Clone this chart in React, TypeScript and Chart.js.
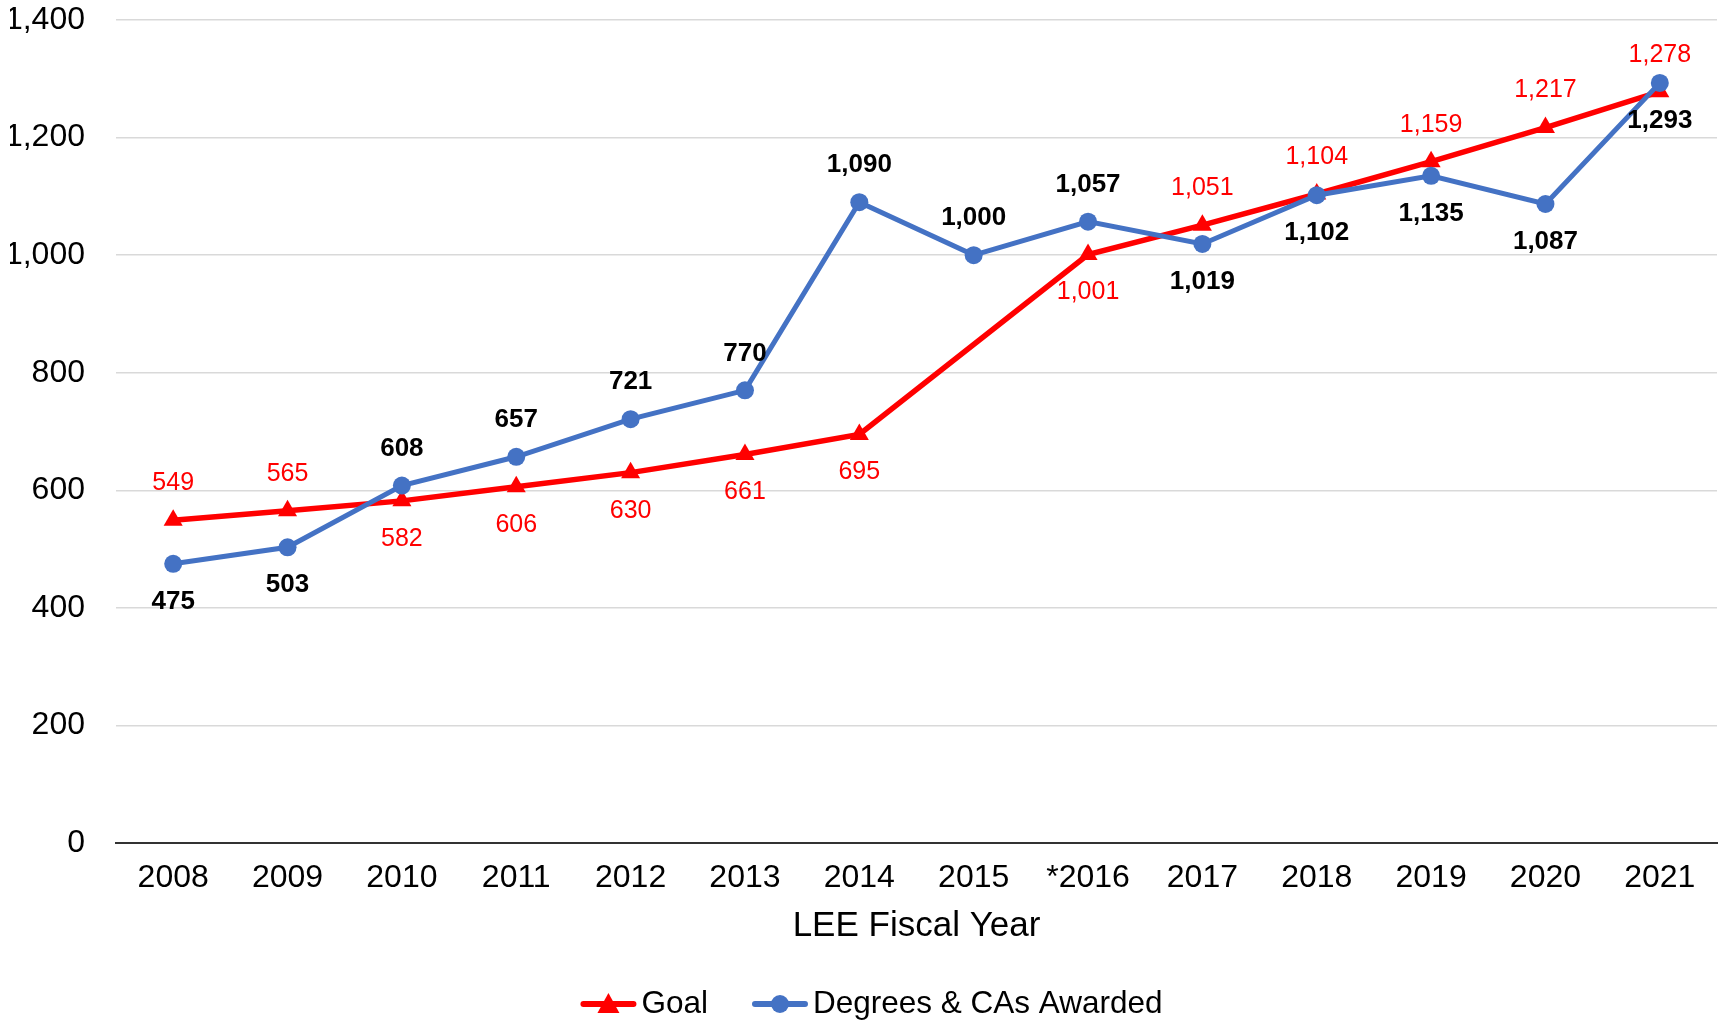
import React, { useEffect, useRef } from "react";
import { Chart, registerables } from "chart.js";

Chart.register(...registerables);

const years = ["2008", "2009", "2010", "2011", "2012", "2013", "2014", "2015", "*2016", "2017", "2018", "2019", "2020", "2021"];
const goal: (number | null)[] = [549, 565, 582, 606, 630, 661, 695, null, 1001, 1051, 1104, 1159, 1217, 1278];
const awarded = [475, 503, 608, 657, 721, 770, 1090, 1000, 1057, 1019, 1102, 1135, 1087, 1293];
const goalLabelSide = ["above", "above", "below", "below", "below", "below", "below", "", "below", "above", "above", "above", "above", "above"];
const awardedLabelSide = ["below", "below", "above", "above", "above", "above", "above", "above", "above", "below", "below", "below", "below", "below"];
const yTicks = { min: 0, max: 1400, step: 200 };

const FONT = "'Liberation Sans', Arial, sans-serif";
const RED = "#FF0000";
const BLUE = "#4472C4";

const fmt = (v: number) => v.toLocaleString("en-US");

const labelPlugin = {
  id: "valueLabels",
  afterDatasetsDraw(chart: any) {
    const ctx = chart.ctx;
    const configs = [
      { idx: 0, sides: goalLabelSide, color: RED, weight: "normal", size: 25 },
      { idx: 1, sides: awardedLabelSide, color: "#000", weight: "bold", size: 26 },
    ];
    ctx.save();
    ctx.textAlign = "center";
    ctx.textBaseline = "middle";
    for (const c of configs) {
      const meta = chart.getDatasetMeta(c.idx);
      const data = chart.data.datasets[c.idx].data;
      ctx.font = `${c.weight} ${c.size}px ${FONT}`;
      ctx.fillStyle = c.color;
      meta.data.forEach((pt: any, i: number) => {
        const v = data[i];
        if (v === null || v === undefined || !c.sides[i]) return;
        const dy = c.sides[i] === "above" ? -37 : 38;
        ctx.fillText(fmt(v), pt.x, pt.y + dy);
      });
    }
    ctx.restore();
  },
};

const legendPlugin = {
  id: "customLegend",
  afterDraw(chart: any) {
    const ctx = chart.ctx;
    const items = [
      { text: "Goal", color: RED, shape: "triangle" },
      { text: "Degrees & CAs Awarded", color: BLUE, shape: "circle" },
    ];
    const markerW = 56;
    const textGap = 5;
    const itemGap = 44;
    ctx.save();
    ctx.font = `31.5px ${FONT}`;
    const widths = items.map((it) => markerW + textGap + ctx.measureText(it.text).width);
    const total = widths.reduce((a, b) => a + b, 0) + itemGap * (items.length - 1);
    let x = chart.width / 2 + 11 - total / 2;
    const y = 1004;
    items.forEach((it, i) => {
      ctx.strokeStyle = it.color;
      ctx.fillStyle = it.color;
      ctx.lineWidth = 6;
      ctx.lineCap = "round";
      ctx.beginPath();
      ctx.moveTo(x + 3, y);
      ctx.lineTo(x + markerW - 3, y);
      ctx.stroke();
      const cx = x + markerW / 2;
      if (it.shape === "triangle") {
        ctx.beginPath();
        ctx.moveTo(cx, y - 11);
        ctx.lineTo(cx + 11, y + 9);
        ctx.lineTo(cx - 11, y + 9);
        ctx.closePath();
        ctx.fill();
      } else {
        ctx.beginPath();
        ctx.arc(cx, y, 9, 0, Math.PI * 2);
        ctx.fill();
      }
      ctx.fillStyle = "#000";
      ctx.textAlign = "left";
      ctx.textBaseline = "middle";
      ctx.fillText(it.text, x + markerW + textGap, y);
      x += widths[i] + itemGap;
    });
    ctx.restore();
  },
};

export default function App() {
  const ref = useRef<HTMLCanvasElement>(null);
  useEffect(() => {
    if (!ref.current) return;
    const chart = new Chart(ref.current, {
      type: "line",
      data: {
        labels: years,
        datasets: [
          {
            label: "Goal",
            data: goal,
            borderColor: RED,
            backgroundColor: RED,
            borderWidth: 5.5,
            pointStyle: "triangle",
            pointRadius: 11,
            pointBorderWidth: 0,
            spanGaps: true,
            order: 2,
          },
          {
            label: "Degrees & CAs Awarded",
            data: awarded,
            borderColor: BLUE,
            backgroundColor: BLUE,
            borderWidth: 5,
            pointStyle: "circle",
            pointRadius: 9,
            pointBorderWidth: 0,
            order: 1,
          },
        ],
      },
      options: {
        responsive: false,
        animation: false,
        layout: { autoPadding: false, padding: { left: 10, right: 4, top: 20, bottom: 76 } },
        plugins: { legend: { display: false }, tooltip: { enabled: false } },
        scales: {
          x: {
            offset: true,
            grid: { display: false, drawTicks: false },
            border: { display: true, color: "#333", width: 2 },
            ticks: { padding: 16, color: "#000", font: { size: 32, family: FONT }, maxRotation: 0 },
            title: {
              display: true,
              text: "LEE Fiscal Year",
              color: "#000",
              font: { size: 35, family: FONT },
              padding: { top: 10, bottom: 0 },
            },
            afterFit: (s: any) => {
              s.height = 104;
              s.paddingLeft = 0;
              s.paddingRight = 0;
            },
          },
          y: {
            min: yTicks.min,
            max: yTicks.max,
            ticks: {
              stepSize: yTicks.step,
              padding: 31,
              color: "#000",
              font: { size: 32, family: FONT },
              callback: (v: any) => fmt(Number(v)),
            },
            grid: { color: "#d9d9d9", lineWidth: 1.5, drawTicks: false },
            border: { display: false },
            afterFit: (s: any) => {
              s.width = 106;
              s.paddingTop = 0;
              s.paddingBottom = 0;
            },
          },
        },
      },
      plugins: [labelPlugin, legendPlugin],
    });
    return () => chart.destroy();
  }, []);
  return (
    <div style={{ position: "fixed", left: 0, top: 0, width: 1721, height: 1023, background: "#fff" }}>
      <canvas ref={ref} width={1721} height={1023} style={{ width: 1721, height: 1023 }} />
    </div>
  );
}
